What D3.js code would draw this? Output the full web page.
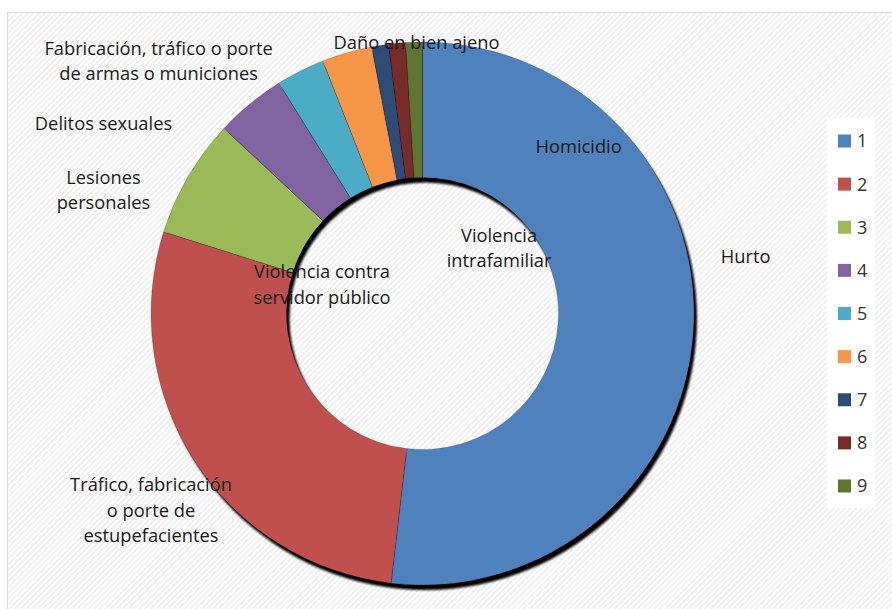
<!DOCTYPE html>
<html>
<head>
<meta charset="utf-8">
<script src="https://cdn.jsdelivr.net/npm/d3@7"></script>
<style>
  html, body { margin: 0; padding: 0; background: #fff; }
  svg { display: block; }
  text { font-family: "Open Sans", Lato, sans-serif; fill: #1a1a1a; }
</style>
</head>
<body>
<svg id="chart" width="892" height="609"></svg>
<script>
// Categories (legend keys 1..9) and their counts
const keys = ["1", "2", "3", "4", "5", "6", "7", "8", "9"];
const categories = [
  "Hurto",
  "Tráfico, fabricación o porte de estupefacientes",
  "Lesiones personales",
  "Delitos sexuales",
  "Fabricación, tráfico o porte de armas o municiones",
  "Daño en bien ajeno",
  "Violencia contra servidor público",
  "Violencia intrafamiliar",
  "Homicidio"
];
const values = [520, 281, 71, 42, 29, 30, 10, 10, 10];

// Wrapped label lines for each category
const labelLines = [
  ["Hurto"],
  ["Tráfico, fabricación", "o porte de", "estupefacientes"],
  ["Lesiones", "personales"],
  ["Delitos sexuales"],
  ["Fabricación, tráfico o porte", "de armas o municiones"],
  ["Daño en bien ajeno"],
  ["Violencia contra", "servidor público"],
  ["Violencia", "intrafamiliar"],
  ["Homicidio"]
];

const colors = ["#4F81BD", "#C0504D", "#9BBB59", "#8064A2", "#4BACC6",
                "#F79646", "#2C4D75", "#772C2A", "#5F7530"];

// Label anchors, in units of the outer radius relative to the centre
const labelOffsets = [
  [1.19, -0.21], [-1.0, 0.725], [-1.175, -0.455], [-1.175, -0.70],
  [-0.972, -0.93], [-0.022, -0.997], [-0.37, -0.107], [0.282, -0.24],
  [0.575, -0.615]
];

const svg = d3.select("#chart");
const W = 892, H = 609;
const cx = 422.5, cy = 313.5, rOuter = 271.5, rInner = 136;

const defs = svg.append("defs");
const pat = defs.append("pattern")
  .attr("id", "hatch").attr("patternUnits", "userSpaceOnUse")
  .attr("width", 4).attr("height", 4)
  .attr("patternTransform", "rotate(45)");
pat.append("rect").attr("width", 4).attr("height", 4).attr("fill", "#ffffff");
pat.append("rect").attr("width", 2).attr("height", 4).attr("fill", "#efefef");

const blur = defs.append("filter").attr("id", "soft")
  .attr("x", "-10%").attr("y", "-10%").attr("width", "120%").attr("height", "120%");
blur.append("feGaussianBlur").attr("stdDeviation", 0.8);

// Chart area
svg.append("rect").attr("x", 0).attr("y", 0).attr("width", W).attr("height", H).attr("fill", "#fff");
svg.append("rect").attr("x", 7.5).attr("y", 12.5).attr("width", W).attr("height", H)
  .attr("fill", "url(#hatch)").attr("stroke", "#d9d9d9").attr("stroke-width", 1);

const pie = d3.pie().sort(null).value(d => d)(values);
const arc = d3.arc().innerRadius(rInner).outerRadius(rOuter);
const ring = d3.arc().innerRadius(rInner).outerRadius(rOuter).startAngle(0).endAngle(2 * Math.PI);

// Drop shadow behind the ring
svg.append("path")
  .attr("transform", `translate(${cx + 3},${cy + 5})`)
  .attr("d", ring())
  .attr("fill", "#000")
  .attr("filter", "url(#soft)");

const g = svg.append("g").attr("transform", `translate(${cx},${cy})`);
g.selectAll("path.slice")
  .data(pie)
  .join("path")
  .attr("class", "slice")
  .attr("d", arc)
  .attr("fill", (d, i) => colors[i])
  .attr("stroke", "rgba(0,0,0,0.35)")
  .attr("stroke-width", 0.5);

// Data labels
const xPos = d3.scaleLinear().domain([-1, 1]).range([cx - rOuter, cx + rOuter]);
const yPos = d3.scaleLinear().domain([-1, 1]).range([cy - rOuter, cy + rOuter]);
const lineH = 25.5, fontSize = 18.3;
labelLines.forEach((lines, i) => {
  const x = xPos(labelOffsets[i][0]);
  const y = yPos(labelOffsets[i][1]);
  const t = svg.append("text")
    .attr("text-anchor", "middle")
    .attr("font-size", fontSize);
  lines.forEach((ln, j) => {
    t.append("tspan")
      .attr("x", x)
      .attr("y", y + (j - (lines.length - 1) / 2) * lineH)
      .attr("dy", "0.35em")
      .text(ln);
  });
});

// Legend
const legX = 827, legY = 118, legW = 48, legH = 390;
svg.append("rect").attr("x", legX).attr("y", legY).attr("width", legW).attr("height", legH).attr("fill", "#fff");
const legScale = d3.scalePoint().domain(keys).range([legY + 23, legY + 368]);
const leg = svg.append("g");
keys.forEach((k, i) => {
  const y = legScale(k);
  leg.append("rect").attr("x", legX + 11).attr("y", y - 6.5).attr("width", 13).attr("height", 13)
    .attr("fill", colors[i]);
  leg.append("text").attr("x", legX + 30).attr("y", y).attr("dy", "0.36em")
    .attr("font-size", 18).style("fill", "#333").text(k);
});
</script>
</body>
</html>
